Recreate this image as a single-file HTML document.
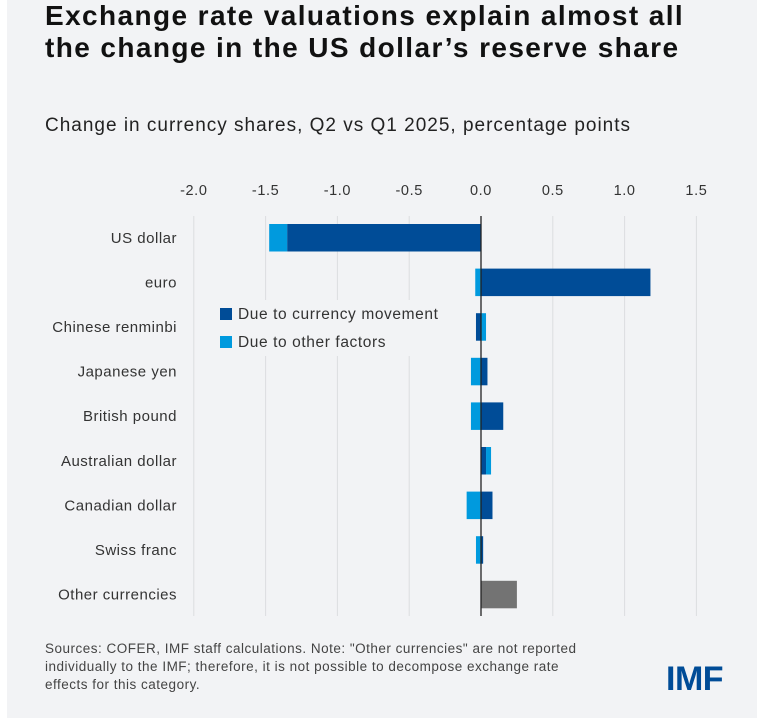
<!DOCTYPE html>
<html><head><meta charset="utf-8"><style>
body{margin:0;background:#fff;width:766px;height:724px;overflow:hidden;font-family:"Liberation Sans",sans-serif}
#panel{position:absolute;left:7px;top:0;width:750px;height:718px;background:#f2f3f5}
.t{position:absolute;white-space:nowrap}
</style></head><body>
<div id="panel"></div>
<div class="t" style="left:45px;top:0px;font-size:28px;font-weight:bold;line-height:32px;color:#111;letter-spacing:1.4px">Exchange rate valuations explain almost all<br>the change in the US dollar’s reserve share</div>
<div class="t" style="left:45px;top:115px;font-size:19px;color:#222;letter-spacing:1px">Change in currency shares, Q2 vs Q1 2025, percentage points</div>
<svg id="chart" width="766" height="724" style="position:absolute;left:0;top:0"></svg>
<div class="t" style="left:45px;top:640px;font-size:13.5px;line-height:18px;color:#444;letter-spacing:0.5px">Sources: COFER, IMF staff calculations. Note: "Other currencies" are not reported<br>individually to the IMF; therefore, it is not possible to decompose exchange rate<br>effects for this category.</div>
<div class="t" style="left:666px;top:660px;font-size:34px;font-weight:bold;color:#004c97;letter-spacing:-0.5px">IMF</div>
<script>
const categories=["US dollar","euro","Chinese renminbi","Japanese yen","British pound","Australian dollar","Canadian dollar","Swiss franc","Other currencies"];
const currencyMovement=[-1.35,1.18,-0.035,0.045,0.155,0.035,0.08,0.015,null];
const otherFactors=[-0.125,-0.04,0.035,-0.07,-0.07,0.035,-0.1,-0.035,null];
const otherTotal=[null,null,null,null,null,null,null,null,0.25];
const ticks=[-2.0,-1.5,-1.0,-0.5,0.0,0.5,1.0,1.5];
const NS="http://www.w3.org/2000/svg";
const svg=document.getElementById('chart');
const x=v=>481+v*143.6;
const rowY=i=>224+i*44.6;
const BH=27.5;
function mk(t,a){const e=document.createElementNS(NS,t);for(const k in a)e.setAttribute(k,a[k]);svg.appendChild(e);return e;}
ticks.forEach(t=>{
  const g=mk('line',{x1:x(t),x2:x(t),y1:216,y2:616,stroke:'#dcdde0','stroke-width':1});
  
  
  const l=mk('text',{x:x(t),y:195,'text-anchor':'middle','font-size':14.5,fill:'#333','letter-spacing':0.6});
  l.textContent=t.toFixed(1);
  
  
});
const lb=mk('rect',{x:214,y:300,width:232,height:56,fill:'#f2f3f5'});


function seg(a,b,y,c,n){const r=mk('rect',{x:Math.min(x(a),x(b)),y:y,width:Math.abs(x(b)-x(a)),height:BH,fill:c});
  
  }
categories.forEach((c,i)=>{
  const y=rowY(i);
  const lab=mk('text',{x:177,y:y+BH/2+5,'text-anchor':'end','font-size':15,fill:'#333','letter-spacing':0.5});
  lab.textContent=c;
  
  
  if(otherTotal[i]!=null){seg(0,otherTotal[i],y,'#737373','bar-other-currencies');return;}
  const cm=currencyMovement[i],of=otherFactors[i];
  seg(0,cm,y,'#004c97','bar-currency-movement');
  const start=(Math.sign(of)===Math.sign(cm))?cm:0;
  seg(start,start+of,y,'#009ade','bar-other-factors');
});
const zl=mk('line',{x1:x(0),x2:x(0),y1:216,y2:616,stroke:'#222','stroke-width':1.3});


[['#004c97','Due to currency movement',314],['#009ade','Due to other factors',342]].forEach(([c,t,y])=>{
  const s=mk('rect',{x:220,y:y-6,width:12,height:12,fill:c});
  
  
  const tx=mk('text',{x:238,y:y+5,'font-size':15.5,fill:'#333','letter-spacing':0.6});
  tx.textContent=t;
  
  
});
</script>
</body></html>
